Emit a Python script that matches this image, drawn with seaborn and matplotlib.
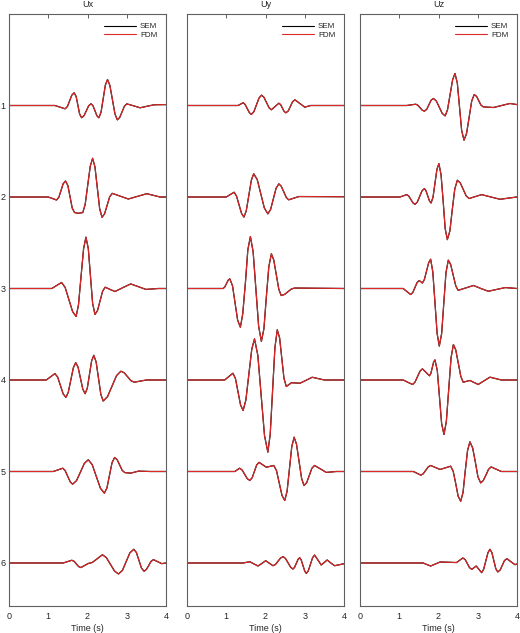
import pandas as pd
import matplotlib
matplotlib.use('Agg')
import matplotlib.pyplot as plt
from matplotlib.lines import Line2D
import seaborn as sns

# seismogram samples (time in s, amplitude in trace-offset units)
STATIONS = [1, 2, 3, 4, 5, 6]
COMPONENTS = ['Ux', 'Uy', 'Uz']
METHODS = ['SEM', 'FDM']

UX_TIMES = [
    [0, 1.17, 1.30, 1.43, 1.49, 1.545, 1.60, 1.66, 1.71, 1.755, 1.80, 1.85, 1.91, 1.97, 2.03, 2.09, 2.14, 2.19, 2.24, 2.29,
     2.345, 2.40, 2.455, 2.51, 2.57, 2.635, 2.70, 2.76, 2.82, 2.88, 2.94, 3.00, 3.17, 3.34, 3.52, 3.70, 4.0],
    [0, 1.00, 1.105, 1.21, 1.27, 1.325, 1.38, 1.44, 1.50, 1.555, 1.61, 1.67, 1.77, 1.88, 1.94, 2.005, 2.07, 2.13, 2.19,
     2.25, 2.31, 2.37, 2.435, 2.50, 2.565, 2.63, 2.835, 3.04, 3.275, 3.51, 3.68, 3.85, 4.0],
    [0, 1.09, 1.215, 1.34, 1.43, 1.525, 1.62, 1.71, 1.77, 1.835, 1.90, 1.96, 2.02, 2.075, 2.13, 2.19, 2.255, 2.32, 2.385,
     2.45, 2.575, 2.70, 2.90, 3.10, 3.295, 3.49, 3.645, 3.80, 4.0],
    [0, 0.95, 1.06, 1.17, 1.24, 1.31, 1.38, 1.45, 1.51, 1.575, 1.64, 1.70, 1.76, 1.82, 1.88, 1.94, 1.995, 2.05, 2.105,
     2.16, 2.22, 2.28, 2.34, 2.40, 2.51, 2.625, 2.74, 2.85, 2.935, 3.02, 3.105, 3.19, 3.345, 3.50, 4.0],
    [0, 1.13, 1.25, 1.37, 1.43, 1.495, 1.56, 1.62, 1.72, 1.82, 1.92, 2.02, 2.12, 2.225, 2.33, 2.43, 2.495, 2.56, 2.625,
     2.69, 2.755, 2.82, 2.885, 2.95, 3.10, 3.30, 3.60, 4.0],
    [0, 1.38, 1.49, 1.60, 1.66, 1.715, 1.77, 1.83, 1.925, 2.02, 2.12, 2.25, 2.38, 2.48, 2.585, 2.69, 2.79, 2.89, 2.985,
     3.08, 3.18, 3.245, 3.31, 3.375, 3.44, 3.50, 3.56, 3.62, 3.68, 3.785, 3.89, 4.0],
]
UX_AMPS = [
    [0, 0, -0.018, -0.036, -0.010, 0.052, 0.113, 0.139, 0.099, 0.003, -0.094, -0.134, -0.112, -0.058, -0.003, 0.019,
     -0.003, -0.058, -0.112, -0.134, -0.073, 0.075, 0.223, 0.284, 0.220, 0.064, -0.093, -0.157, -0.131, -0.070, -0.008,
     0.018, -0.003, -0.025, -0.008, 0.008, 0.01],
    [0, 0, -0.016, -0.033, -0.003, 0.071, 0.145, 0.175, 0.125, 0.003, -0.120, -0.170, -0.178, -0.170, -0.083, 0.127,
     0.336, 0.423, 0.329, 0.101, -0.128, -0.222, -0.184, -0.091, 0.002, 0.040, 0.009, -0.022, 0.007, 0.036, 0.018, 0.0, 0.0],
    [0, 0, 0.033, 0.066, 0.012, -0.120, -0.252, -0.306, -0.179, 0.128, 0.434, 0.561, 0.438, 0.139, -0.161, -0.284,
     -0.241, -0.135, -0.030, 0.014, -0.010, -0.033, 0.009, 0.050, 0.020, -0.010, -0.005, 0.0, 0.0],
    [0, 0, 0.035, 0.070, 0.032, -0.060, -0.152, -0.190, -0.135, 0.0, 0.135, 0.190, 0.140, 0.020, -0.100, -0.150, -0.089,
     0.060, 0.209, 0.270, 0.197, 0.020, -0.157, -0.230, -0.182, -0.067, 0.048, 0.096, 0.079, 0.036, -0.007, -0.024,
     -0.012, 0.0, 0.0],
    [0, 0, 0.018, 0.036, 0.010, -0.052, -0.113, -0.139, -0.100, -0.006, 0.089, 0.128, 0.075, -0.055, -0.184, -0.237,
     -0.180, -0.042, 0.096, 0.153, 0.129, 0.071, 0.012, -0.012, -0.018, 0.004, 0.0, 0.0],
    [0, 0, 0.015, 0.030, 0.018, -0.010, -0.038, -0.050, -0.028, -0.005, 0.005, 0.047, 0.090, 0.059, -0.015, -0.089,
     -0.120, -0.081, 0.015, 0.111, 0.150, 0.115, 0.030, -0.055, -0.090, -0.071, -0.027, 0.018, 0.037, 0.015, -0.007, 0.0],
]

UY_TIMES = [
    [0, 1.30, 1.365, 1.43, 1.48, 1.535, 1.59, 1.64, 1.705, 1.77, 1.835, 1.90, 1.96, 2.025, 2.09, 2.15, 2.245, 2.34, 2.385,
     2.43, 2.475, 2.52, 2.58, 2.635, 2.69, 2.75, 2.875, 3.00, 3.15, 4.0],
    [0, 1.00, 1.10, 1.20, 1.26, 1.325, 1.39, 1.45, 1.51, 1.575, 1.64, 1.70, 1.79, 1.88, 1.97, 2.06, 2.13, 2.20, 2.27,
     2.34, 2.40, 2.465, 2.53, 2.59, 2.72, 2.85, 4.0],
    [0, 0.92, 0.96, 1.005, 1.05, 1.09, 1.16, 1.225, 1.29, 1.36, 1.42, 1.49, 1.55, 1.615, 1.685, 1.755, 1.825, 1.895,
     1.96, 2.02, 2.085, 2.15, 2.21, 2.275, 2.34, 2.40, 2.485, 2.57, 2.655, 2.74, 4.0],
    [0, 0.96, 1.065, 1.17, 1.235, 1.30, 1.365, 1.43, 1.50, 1.575, 1.65, 1.72, 1.805, 1.89, 1.975, 2.06, 2.12, 2.18, 2.24,
     2.30, 2.36, 2.415, 2.47, 2.53, 2.66, 2.88, 3.035, 3.19, 3.50, 4.0],
    [0, 1.22, 1.28, 1.34, 1.405, 1.47, 1.535, 1.60, 1.66, 1.7175, 1.775, 1.835, 1.93, 2.02, 2.115, 2.21, 2.28, 2.35,
     2.42, 2.49, 2.55, 2.61, 2.67, 2.73, 2.79, 2.855, 2.92, 2.98, 3.05, 3.115, 3.18, 3.25, 3.40, 3.55, 3.80, 4.0],
    [0, 1.43, 1.515, 1.60, 1.705, 1.81, 1.91, 2.005, 2.10, 2.19, 2.255, 2.32, 2.385, 2.45, 2.51, 2.575, 2.64, 2.70, 2.74,
     2.785, 2.83, 2.87, 2.91, 2.955, 3.00, 3.04, 3.09, 3.145, 3.20, 3.25, 3.335, 3.42, 3.495, 3.57, 3.665, 3.76, 3.88, 4.0],
]
UY_AMPS = [
    [0, 0, 0.015, 0.030, 0.011, -0.034, -0.079, -0.098, -0.067, 0.008, 0.082, 0.113, 0.090, 0.033, -0.024, -0.047,
     -0.011, 0.025, 0.010, -0.028, -0.065, -0.080, -0.059, -0.009, 0.041, 0.062, 0.022, -0.018, 0.0, 0.0],
    [0, 0, 0.026, 0.052, 0.012, -0.084, -0.180, -0.220, -0.151, 0.017, 0.185, 0.254, 0.190, 0.035, -0.120, -0.184,
     -0.136, -0.020, 0.096, 0.144, 0.118, 0.057, -0.005, -0.031, -0.013, 0.005, 0.003],
    [0, 0, 0.015, 0.053, 0.091, 0.106, 0.029, -0.159, -0.346, -0.423, -0.278, 0.073, 0.423, 0.568, 0.401, -0.006,
     -0.412, -0.579, -0.439, -0.100, 0.239, 0.379, 0.312, 0.151, -0.010, -0.077, -0.065, -0.036, -0.007, 0.005, 0.0],
    [0, 0, 0.037, 0.074, 0.015, -0.130, -0.274, -0.333, -0.219, 0.059, 0.336, 0.450, 0.269, -0.170, -0.608, -0.789,
     -0.594, -0.120, 0.354, 0.549, 0.459, 0.239, 0.020, -0.071, -0.030, -0.035, -0.003, 0.030, 0.0, 0.0],
    [0, 0, 0.018, 0.036, 0.016, -0.031, -0.078, -0.098, -0.069, 0.001, 0.071, 0.100, 0.073, 0.047, 0.056, 0.066, 0.010,
     -0.126, -0.261, -0.317, -0.216, 0.029, 0.274, 0.375, 0.298, 0.111, -0.076, -0.153, -0.121, -0.044, 0.034, 0.066,
     0.028, -0.010, 0.0, 0.0],
    [0, 0, 0.007, 0.014, -0.010, -0.033, -0.004, 0.025, -0.003, -0.030, -0.016, 0.020, 0.055, 0.069, 0.049, 0.002,
     -0.046, -0.066, -0.048, -0.004, 0.040, 0.058, 0.033, -0.028, -0.089, -0.114, -0.085, -0.014, 0.058, 0.087, 0.033,
     -0.022, 0.005, 0.033, 0.0, -0.030, -0.019, -0.008],
]

UZ_TIMES = [
    [0, 1.19, 1.305, 1.42, 1.475, 1.53, 1.585, 1.64, 1.70, 1.755, 1.81, 1.87, 1.945, 2.02, 2.095, 2.17, 2.23, 2.295,
     2.36, 2.42, 2.48, 2.535, 2.59, 2.65, 2.715, 2.78, 2.845, 2.91, 2.97, 3.025, 3.08, 3.14, 3.40, 3.61, 3.82, 4.0],
    [0, 1.02, 1.105, 1.19, 1.24, 1.295, 1.35, 1.40, 1.46, 1.52, 1.58, 1.64, 1.68, 1.725, 1.77, 1.81, 1.86, 1.91, 1.96,
     2.01, 2.065, 2.12, 2.17, 2.225, 2.29, 2.35, 2.415, 2.48, 2.555, 2.63, 2.705, 2.78, 2.94, 3.10, 3.335, 3.57, 3.785, 4.0],
    [0, 1.10, 1.195, 1.29, 1.345, 1.40, 1.455, 1.51, 1.59, 1.64, 1.695, 1.75, 1.80, 1.855, 1.91, 1.965, 2.02, 2.08,
     2.135, 2.19, 2.25, 2.31, 2.375, 2.44, 2.50, 2.695, 2.89, 3.08, 3.27, 3.485, 3.70, 4.0],
    [0, 1.10, 1.22, 1.34, 1.40, 1.465, 1.53, 1.59, 1.68, 1.77, 1.805, 1.84, 1.875, 1.91, 1.97, 2.025, 2.08, 2.14, 2.20,
     2.26, 2.32, 2.38, 2.44, 2.505, 2.57, 2.63, 2.80, 2.905, 3.01, 3.16, 3.31, 3.60, 4.0],
    [0, 1.36, 1.455, 1.55, 1.61, 1.675, 1.74, 1.80, 1.92, 2.04, 2.175, 2.31, 2.375, 2.44, 2.50, 2.565, 2.625, 2.68, 2.74,
     2.80, 2.87, 2.94, 3.005, 3.075, 3.14, 3.21, 3.275, 3.34, 3.47, 3.60, 4.0],
    [0, 1.61, 1.705, 1.80, 1.92, 2.04, 2.46, 2.54, 2.62, 2.68, 2.735, 2.79, 2.85, 2.905, 2.96, 3.03, 3.10, 3.15, 3.205,
     3.26, 3.31, 3.36, 3.41, 3.46, 3.51, 3.57, 3.625, 3.68, 3.74, 3.845, 3.95, 4.0],
]
UZ_AMPS = [
    [0, 0, 0.007, 0.014, 0.003, -0.024, -0.051, -0.062, -0.042, 0.008, 0.057, 0.077, 0.049, -0.019, -0.086, -0.114,
     -0.046, 0.118, 0.282, 0.350, 0.244, -0.015, -0.273, -0.379, -0.306, -0.130, 0.047, 0.120, 0.100, 0.053, 0.005,
     -0.015, -0.022, 0.0, 0.022, 0.010],
    [0, 0, 0.013, 0.026, 0.011, -0.027, -0.064, -0.080, -0.055, 0.006, 0.067, 0.092, 0.069, 0.013, -0.043, -0.066,
     -0.003, 0.150, 0.302, 0.365, 0.244, -0.051, -0.345, -0.466, -0.371, -0.142, 0.088, 0.183, 0.154, 0.083, 0.012,
     -0.017, 0.005, 0.026, 0.0, -0.025, -0.012, 0.0],
    [0, 0, -0.033, -0.066, -0.044, 0.011, 0.065, 0.087, 0.060, 0.098, 0.190, 0.282, 0.320, 0.181, -0.155, -0.491,
     -0.630, -0.493, -0.160, 0.173, 0.310, 0.262, 0.145, 0.028, -0.020, 0.006, 0.033, 0.0, -0.030, -0.010, 0.010, 0.0],
    [0, 0, -0.025, -0.049, -0.024, 0.037, 0.097, 0.122, 0.084, 0.046, 0.071, 0.133, 0.195, 0.220, 0.101, -0.188,
     -0.477, -0.596, -0.452, -0.104, 0.244, 0.388, 0.328, 0.182, 0.036, -0.024, -0.005, -0.027, -0.049, -0.009, 0.031,
     0.0, 0.0],
    [0, 0, -0.020, -0.040, -0.025, 0.013, 0.051, 0.066, 0.044, 0.022, 0.040, 0.058, 0.002, -0.134, -0.269, -0.325,
     -0.230, 0.0, 0.229, 0.324, 0.258, 0.100, -0.059, -0.125, -0.099, -0.038, 0.024, 0.050, 0.025, 0.0, 0.0],
    [0, 0, -0.017, -0.033, -0.011, 0.011, 0.005, 0.030, 0.055, 0.037, -0.007, -0.051, -0.069, -0.051, -0.033, -0.070,
     -0.106, -0.069, 0.022, 0.113, 0.150, 0.114, 0.026, -0.062, -0.098, -0.077, -0.026, 0.026, 0.047, 0.014, -0.019,
     -0.010],
]

TIMES = {'Ux': UX_TIMES, 'Uy': UY_TIMES, 'Uz': UZ_TIMES}
AMPS = {'Ux': UX_AMPS, 'Uy': UY_AMPS, 'Uz': UZ_AMPS}

rows = []
for comp in COMPONENTS:
    for st, ts, amps in zip(STATIONS, TIMES[comp], AMPS[comp]):
        for t, a in zip(ts, amps):
            for m in METHODS:
                rows.append({'comp': comp, 'station': st, 'method': m, 'time': t, 'trace': st - a})
df = pd.DataFrame(rows)

sns.set_style('white')
plt.rcParams['font.family'] = ['Liberation Sans', 'DejaVu Sans']

fig = plt.figure(figsize=(5.2, 6.33), dpi=100)
lefts = [9 / 520, 187 / 520, 360 / 520]
colors = {'SEM': 'black', 'FDM': '#e02828'}
widths = {'SEM': 0.9, 'FDM': 0.8}
spine_col = '#606060'

for i, comp in enumerate(COMPONENTS):
    ax = fig.add_axes([lefts[i], 27 / 633, 157 / 520, 592 / 633])
    sub = df[df['comp'] == comp]
    for m in METHODS:
        sns.lineplot(data=sub[sub['method'] == m], x='time', y='trace', units='station', estimator=None,
                     color=colors[m], linewidth=widths[m], sort=False, legend=False, ax=ax)
    ax.set_xlim(0, 4)
    ax.set_ylim(6.47, 0)
    ax.set_xticks([0, 1, 2, 3, 4])
    ax.set_yticks(STATIONS)
    if i > 0:
        ax.set_yticklabels([])
    ax.tick_params(axis='x', direction='in', top=True, length=3, width=0.7, color=spine_col,
                   labelsize=6.5, pad=4.5)
    ax.tick_params(axis='y', length=0, labelsize=6.5, pad=2.5)
    for s in ax.spines.values():
        s.set_color(spine_col)
        s.set_linewidth(0.8)
    ax.set_title(comp, fontsize=6.5, pad=5)
    ax.set_xlabel('Time (s)', fontsize=6.5, labelpad=2)
    ax.set_ylabel('')
    handles = [Line2D([], [], color=colors[m], linewidth=0.8) for m in METHODS]
    ax.legend(handles, METHODS, loc='upper right', frameon=False, fontsize=5.8, handlelength=4.0,
              handletextpad=0.45, labelspacing=0.05, borderaxespad=0.7)

fig.savefig('out.png', dpi=100)
